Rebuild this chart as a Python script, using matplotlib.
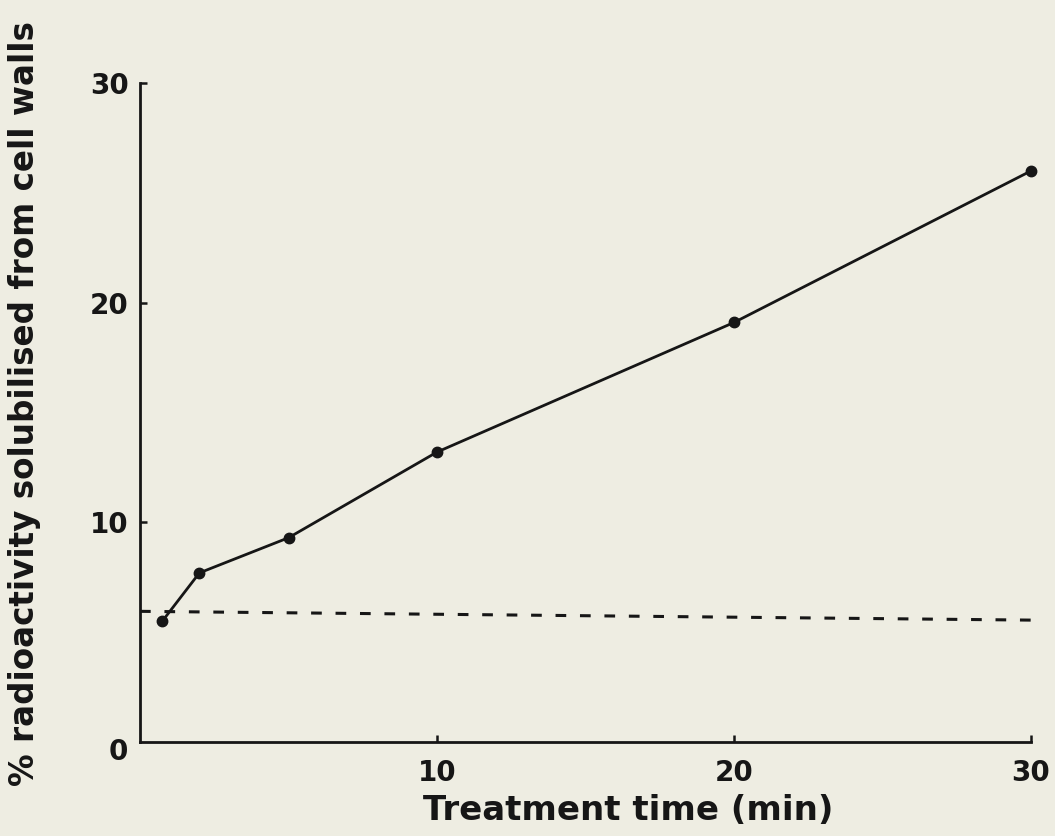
import matplotlib
matplotlib.use("Agg")
import matplotlib.pyplot as plt

# Solubilised radioactivity over treatment time
time_min = [0.75, 2, 5, 10, 20, 30]
pct_solubilised = [5.5, 7.7, 9.3, 13.2, 19.1, 26.0]

# Control level (dashed reference line)
control_x = [0, 30]
control_y = [5.95, 5.55]

x_ticks = [10, 20, 30]
y_ticks = [10, 20, 30]

paper = "#eeede2"
ink = "#161616"

plt.rcParams["font.family"] = ["DejaVu Sans"]
plt.rcParams["font.weight"] = "bold"

fig = plt.figure(figsize=(10.55, 8.36), dpi=100, facecolor=paper)
ax = fig.add_axes([0.1327, 0.1124, 0.8446, 0.7883], facecolor=paper)

ax.plot(time_min, pct_solubilised, color=ink, lw=2.0, marker="o",
        markersize=7.5, clip_on=False, zorder=3)
ax.plot(control_x, control_y, color=ink, lw=2.2, dashes=(3.5, 4.5),
        clip_on=False, zorder=2)

ax.set_xlim(0, 30)
ax.set_ylim(0, 30)
ax.set_xticks(x_ticks)
ax.set_yticks(y_ticks)
ax.set_xticklabels([str(v) for v in x_ticks])
ax.set_yticklabels([str(v) for v in y_ticks])

for side in ("top", "right"):
    ax.spines[side].set_visible(False)
for side in ("left", "bottom"):
    ax.spines[side].set_linewidth(2.0)
    ax.spines[side].set_color(ink)

ax.tick_params(axis="both", direction="in", length=5, width=1.8,
               colors=ink, labelsize=20)
ax.tick_params(axis="x", pad=12)
ax.tick_params(axis="y", pad=8)

# shared origin label at the corner
fig.text(128 / 1055, 1 - 752 / 836, "0", ha="right", va="center",
         fontsize=20, fontweight="bold", color=ink)

fig.text(628 / 1055, 1 - 810 / 836, "Treatment time (min)", ha="center",
         va="center", fontsize=24.5, fontweight="bold", color=ink)
fig.text(25 / 1055, 1 - 404 / 836,
         "% radioactivity solubilised from cell walls", rotation=90,
         ha="center", va="center", fontsize=23.5, fontweight="bold",
         color=ink)

fig.savefig("out.png", dpi=100, facecolor=paper)
